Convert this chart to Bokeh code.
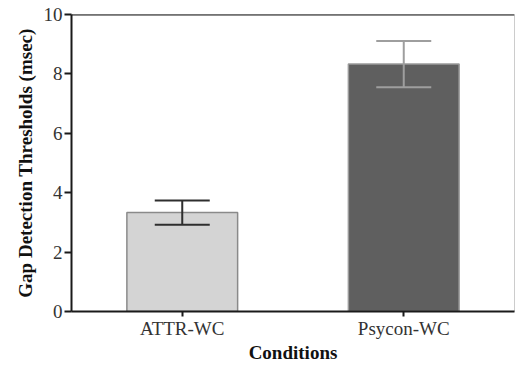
from bokeh.plotting import figure
from bokeh.models import ColumnDataSource, Whisker, TeeHead, FactorRange, Range1d, Span, FixedTicker
from bokeh.embed import file_html
from bokeh.resources import INLINE

conditions = ["ATTR-WC", "Psycon-WC"]
means = [3.33, 8.33]
errors = [0.41, 0.78]
y_ticks = [0, 2, 4, 6, 8, 10]

fills = ["#d4d4d4", "#5f5f5f"]
edges = ["#8a8a8a", "#9a9a9a"]
err_colors = ["#2e2e2e", "#9e9e9e"]

p = figure(width=517, height=367, x_range=FactorRange(factors=conditions, range_padding=0),
           y_range=Range1d(0, 10), output_backend="svg", toolbar_location=None,
           min_border_left=71, min_border_right=3, min_border_top=14, min_border_bottom=56)

src = ColumnDataSource(dict(x=conditions, top=means, fill=fills, edge=edges))
p.vbar(x="x", top="top", width=0.5, source=src, fill_color="fill", line_color="edge", line_width=1.5)

for c, m, e, col in zip(conditions, means, errors, err_colors):
    s = ColumnDataSource(dict(x=[c], lo=[m - e], hi=[m + e]))
    w = Whisker(source=s, base="x", lower="lo", upper="hi", line_color=col, line_width=2,
                upper_head=TeeHead(size=55, line_color=col, line_width=2),
                lower_head=TeeHead(size=55, line_color=col, line_width=2))
    w.level = "overlay"
    p.add_layout(w)

p.add_layout(Span(location=10, dimension="width", line_color="#1a1a1a", line_width=2))

p.grid.visible = False
p.outline_line_color = "#cccccc"
p.outline_line_width = 1
p.background_fill_color = "white"
p.border_fill_color = "white"

font = "Liberation Serif"
p.xaxis.axis_label = "Conditions"
p.yaxis.axis_label = "Gap Detection Thresholds (msec)"
for ax in (p.xaxis, p.yaxis):
    ax.axis_label_text_font = font
    ax.axis_label_text_font_style = "bold"
    ax.axis_label_text_font_size = "19px"
    ax.axis_label_text_color = "#111111"
    ax.major_label_text_font = font
    ax.major_label_text_font_size = "19px"
    ax.major_label_text_color = "#333333"
    ax.axis_line_color = "#1a1a1a"
    ax.axis_line_width = 2
    ax.major_tick_line_color = "#1a1a1a"
    ax.major_tick_line_width = 2
    ax.minor_tick_line_color = None

p.yaxis.ticker = FixedTicker(ticks=y_ticks)
p.yaxis.major_tick_out = 7
p.yaxis.major_tick_in = 0
p.yaxis.major_label_standoff = 2
p.yaxis.axis_label_standoff = 5
p.xaxis.major_tick_out = 5
p.xaxis.major_tick_in = 0
p.xaxis.major_label_standoff = 1
p.xaxis.axis_label_standoff = 0

open("out.html", "w").write(file_html(p, INLINE))
